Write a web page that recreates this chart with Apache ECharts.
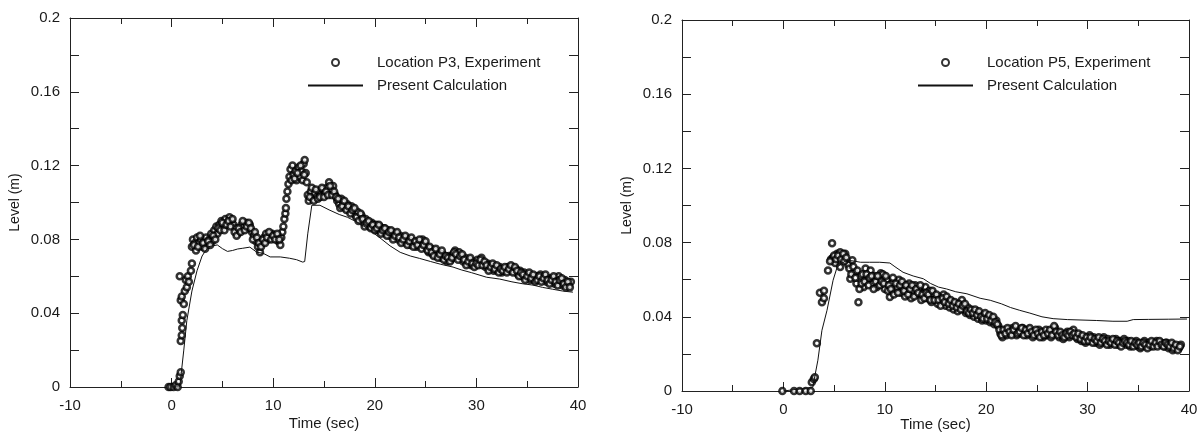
<!DOCTYPE html>
<html>
<head>
<meta charset="utf-8">
<script src="https://cdn.jsdelivr.net/npm/echarts@6/dist/echarts.min.js"></script>
<style>
  html, body { margin: 0; padding: 0; background: #fff; }
  #main { width: 1198px; height: 432px; }
</style>
</head>
<body>
<div id="main"></div>
<script>
// Location P3, experiment (time sec, level m)
var p3Exp = [
  [-0.3,0],[-0.1,0],[0.2,0],[0.4,0.001],[0.6,0],[0.7,0.003],[0.8,0.006],[0.9,0.008],
  [0.9,0.025],[1.0,0.028],[1.0,0.036],[1.05,0.032],[1.1,0.039],[0.9,0.047],[1.0,0.049],
  [0.8,0.060],[1.2,0.045],[1.3,0.052],[1.4,0.058],[1.5,0.054],[1.6,0.060],[1.7,0.057],
  [1.9,0.063],[2.0,0.067],[2.0,0.076],[2.1,0.080],[2.3,0.078],[2.4,0.074],[2.5,0.081],
  [2.7,0.078],[2.9,0.080],[3.0,0.076],[3.2,0.079],[3.4,0.081],[3.5,0.077],[3.7,0.080],
  [3.9,0.083],[4.0,0.079],[4.2,0.085],[4.4,0.087],[4.5,0.083],[4.7,0.088],[4.9,0.090],
  [5.1,0.087],[5.3,0.091],[5.5,0.089],[5.7,0.092],[5.9,0.090],[6.1,0.088],[6.3,0.086],
  [6.5,0.083],[6.7,0.085],[6.9,0.088],[7.1,0.087],[7.3,0.089],[7.5,0.086],[7.7,0.088],
  [7.9,0.084],[8.1,0.082],[8.3,0.079],[8.5,0.076],[8.7,0.073],[8.9,0.078],[9.1,0.081],
  [9.3,0.083],[9.5,0.080],[9.7,0.082],[9.9,0.083],[10.1,0.081],[10.3,0.082],[10.5,0.079],
  [10.7,0.077],[10.8,0.081],[10.9,0.084],[11.0,0.087],[11.1,0.091],[11.2,0.094],[11.25,0.097],
  [11.3,0.102],[11.4,0.106],[11.5,0.110],[11.6,0.114],[11.7,0.118],[11.8,0.112],[11.9,0.120],
  [12.0,0.115],[12.2,0.117],[12.3,0.112],[12.5,0.119],[12.6,0.114],[12.8,0.117],[12.9,0.112],
  [13.0,0.121],[13.1,0.123],[13.2,0.116],[13.3,0.111],[13.4,0.104],[13.5,0.101],[13.7,0.106],
  [13.9,0.102],[14.1,0.105],[14.3,0.103],[14.5,0.106],[14.7,0.104],[14.9,0.107],[15.1,0.105],
  [15.3,0.108],[15.5,0.111],[15.7,0.107],[15.9,0.109],[16.1,0.104],[16.3,0.101],[16.5,0.099],
  [16.7,0.102],[16.9,0.100],[17.1,0.097],[17.3,0.099],[17.5,0.096],[17.7,0.098],[17.9,0.095],
  [18.1,0.093],[18.3,0.095],[18.5,0.091],[18.7,0.093],[18.9,0.089],[19.1,0.091],[19.3,0.088],
  [19.5,0.087],[19.7,0.089],[19.9,0.086],[20.1,0.088],[20.3,0.085],[20.5,0.087],[20.7,0.084],
  [20.9,0.086],[21.1,0.083],[21.3,0.085],[21.5,0.082],[21.7,0.084],[21.9,0.081],[22.1,0.083],
  [22.3,0.080],[22.5,0.082],[22.7,0.079],[22.9,0.081],[23.1,0.078],[23.3,0.080],[23.5,0.077],
  [23.7,0.079],[23.9,0.078],[24.1,0.076],[24.3,0.078],[24.5,0.077],[24.7,0.080],[24.9,0.078],
  [25.1,0.075],[25.3,0.073],[25.5,0.075],[25.7,0.072],[25.9,0.074],[26.1,0.071],[26.3,0.073],
  [26.5,0.070],[26.7,0.072],[26.9,0.070],[27.1,0.068],[27.3,0.071],[27.5,0.069],[27.7,0.072],
  [27.9,0.074],[28.1,0.071],[28.3,0.073],[28.5,0.070],[28.7,0.068],[28.9,0.070],[29.1,0.067],
  [29.3,0.069],[29.5,0.066],[29.7,0.068],[29.9,0.066],[30.1,0.069],[30.3,0.067],[30.5,0.070],
  [30.7,0.067],[30.9,0.065],[31.1,0.067],[31.3,0.064],[31.5,0.066],[31.7,0.063],[31.9,0.065],
  [32.1,0.063],[32.3,0.065],[32.5,0.062],[32.7,0.064],[32.9,0.063],[33.1,0.065],[33.3,0.063],
  [33.5,0.065],[33.7,0.063],[33.9,0.064],[34.1,0.061],[34.3,0.063],[34.5,0.060],[34.7,0.062],
  [34.9,0.059],[35.1,0.061],[35.3,0.058],[35.5,0.060],[35.7,0.058],[35.9,0.060],[36.1,0.059],
  [36.3,0.061],[36.5,0.058],[36.7,0.060],[36.9,0.057],[37.1,0.059],[37.3,0.057],[37.5,0.059],
  [37.7,0.056],[37.9,0.058],[38.1,0.060],[38.3,0.057],[38.5,0.055],[38.7,0.058],[38.9,0.056],
  [39.1,0.055],[39.3,0.057]
];
// more P3 readings in between (the band is dense)
var p3ExpMore = [
  [2.2,0.077],[2.6,0.076],[2.8,0.082],[3.1,0.078],[3.3,0.075],[3.6,0.079],[3.8,0.077],[4.1,0.082],
  [4.3,0.080],[4.6,0.086],[4.8,0.085],[5.0,0.089],[5.2,0.085],[5.4,0.088],[5.6,0.090],[5.8,0.087],
  [6.0,0.091],[6.2,0.084],[6.4,0.082],[6.6,0.086],[6.8,0.084],[7.0,0.090],[7.2,0.085],[7.4,0.087],
  [7.6,0.089],[7.8,0.086],[8.0,0.080],[8.2,0.084],[8.4,0.081],[8.6,0.078],[8.8,0.076],[9.0,0.080],
  [9.2,0.078],[9.4,0.081],[9.6,0.084],[9.8,0.080],[10.0,0.082],[10.2,0.080],[10.4,0.083],[10.6,0.080],
  [12.1,0.113],[12.4,0.116],[12.7,0.120],[13.05,0.115],[13.6,0.103],[13.8,0.108],[14.0,0.101],
  [14.2,0.107],[14.4,0.102],[14.6,0.103],[14.8,0.108],[15.0,0.103],[15.2,0.106],[15.4,0.104],
  [15.6,0.109],[15.8,0.104],[16.0,0.106],[16.2,0.103],[16.4,0.102],[16.6,0.097],[16.8,0.098],
  [17.0,0.101],[17.2,0.096],[17.4,0.098],[17.6,0.094],[17.8,0.096],[18.0,0.097],[18.2,0.092],
  [18.4,0.090],[18.6,0.094],[18.8,0.091],[19.0,0.087],[19.2,0.089],[19.4,0.090],[19.6,0.086],
  [19.8,0.088],[20.0,0.085],[20.2,0.086],[20.4,0.088],[20.6,0.083],[20.8,0.085],[21.0,0.086],
  [21.2,0.082],[21.4,0.084],[21.6,0.085],[21.8,0.080],[22.0,0.082],[22.2,0.084],[22.4,0.081],
  [22.6,0.078],[22.8,0.080],[23.0,0.082],[23.2,0.077],[23.4,0.079],[23.6,0.081],[23.8,0.076],
  [24.0,0.079],[24.2,0.077],[24.4,0.080],[24.6,0.075],[24.8,0.077],[25.0,0.079],[25.2,0.074],
  [25.4,0.076],[25.6,0.073],[25.8,0.071],[26.0,0.075],[26.2,0.070],[26.4,0.072],[26.6,0.074],
  [26.8,0.069],[27.0,0.071],[27.2,0.070],[27.4,0.068],[27.6,0.070],[27.8,0.073],[28.0,0.072],
  [28.2,0.069],[28.4,0.071],[28.6,0.072],[28.8,0.069],[29.0,0.066],[29.2,0.068],[29.4,0.070],
  [29.6,0.067],[29.8,0.065],[30.0,0.067],[30.2,0.066],[30.4,0.069],[30.6,0.066],[30.8,0.068],
  [31.0,0.066],[31.2,0.063],[31.4,0.065],[31.6,0.067],[31.8,0.064],[32.0,0.066],[32.2,0.062],
  [32.4,0.064],[32.6,0.063],[32.8,0.065],[33.0,0.062],[33.2,0.064],[33.4,0.066],[33.6,0.062],
  [33.8,0.065],[34.0,0.063],[34.2,0.060],[34.4,0.062],[34.6,0.061],[34.8,0.058],[35.0,0.060],
  [35.2,0.062],[35.4,0.059],[35.6,0.061],[35.8,0.057],[36.0,0.058],[36.2,0.060],[36.4,0.057],
  [36.6,0.059],[36.8,0.061],[37.0,0.058],[37.2,0.056],[37.4,0.058],[37.6,0.060],[37.8,0.057],
  [38.0,0.055],[38.2,0.058],[38.4,0.059],[38.6,0.056],[38.8,0.054],[39.0,0.057],[39.2,0.054]
];

// Location P3, present calculation
var p3Calc = [
  [0,0],[0.8,0],[1.2,0.020],[1.5,0.036],[2.0,0.052],[2.5,0.063],[3.0,0.071],[3.6,0.076],
  [4.5,0.077],[5.0,0.075],[5.5,0.0735],[6.0,0.074],[6.5,0.0748],[7.0,0.0752],[7.7,0.0758],
  [8.4,0.073],[9.0,0.0725],[9.7,0.0705],[10.7,0.0705],[11.6,0.0698],[12.3,0.069],[12.9,0.0677],
  [13.1,0.068],[13.4,0.083],[13.8,0.0985],[14.6,0.0985],[15.5,0.096],[16.5,0.0935],[17.3,0.092],
  [18.5,0.0887],[19.5,0.085],[20.7,0.080],[21.5,0.0765],[22.5,0.073],[23.5,0.071],[24.4,0.0697],
  [25.5,0.068],[26.5,0.0665],[27.7,0.065],[28.5,0.0635],[29.5,0.062],[31.0,0.0595],[32.3,0.0585],
  [33.5,0.057],[34.5,0.056],[35.6,0.0552],[36.5,0.054],[37.5,0.053],[38.5,0.052],[39.5,0.0514]
];

// Location P5, experiment
var p5Exp = [
  [-0.1,0],[1.05,0],[1.6,0],[2.2,0],[2.7,0],[2.8,0.0047],[3.0,0.0065],[3.1,0.0074],[3.3,0.0257],
  [3.6,0.053],[3.8,0.0478],[4.0,0.054],[4.0,0.050],[4.4,0.065],[4.8,0.0796],[4.7,0.071],[4.9,0.072],
  [5.1,0.069],[5.3,0.074],[5.6,0.0748],[5.8,0.0725],[6.1,0.074],[5.6,0.0668],[6.4,0.068],[6.6,0.0605],
  [6.8,0.0705],[7.0,0.064],[7.2,0.058],[7.4,0.0478],[7.6,0.062],[7.9,0.056],[8.1,0.066],[8.3,0.060],
  [8.6,0.065],[8.8,0.058],[9.0,0.062],[9.2,0.056],[9.4,0.060],[9.6,0.0635],[9.8,0.063],[10.0,0.055],
  [10.2,0.060],[10.5,0.0507],[10.7,0.058],[11.0,0.054],[11.2,0.056],[11.4,0.060],[11.6,0.053],
  [11.8,0.057],[12.0,0.051],[12.2,0.055],[12.4,0.058],[12.6,0.050],[12.8,0.054],[13.0,0.057],
  [13.2,0.052],[13.4,0.055],[13.6,0.049],[13.8,0.053],[14.0,0.056],[14.2,0.050],[14.4,0.054],
  [14.6,0.048],[14.8,0.052],[15.0,0.050],[15.2,0.047],[15.4,0.051],[15.6,0.048],[15.8,0.052],
  [16.0,0.046],[16.2,0.049],[16.4,0.045],[16.6,0.048],[16.8,0.044],[17.0,0.047],[17.2,0.043],
  [17.4,0.046],[17.6,0.049],[17.8,0.044],[18.0,0.042],[18.2,0.045],[18.4,0.041],[18.6,0.043],
  [18.8,0.040],[19.0,0.043],[19.2,0.039],[19.4,0.041],[19.6,0.038],[19.8,0.041],[20.0,0.038],
  [20.2,0.040],[20.4,0.037],[20.6,0.039],[20.8,0.036],[21.0,0.038],[21.2,0.035],[21.4,0.031],
  [21.6,0.029],[21.8,0.032],[22.0,0.030],[22.2,0.033],[22.4,0.031],[22.6,0.034],[22.8,0.032],
  [23.0,0.030],[23.2,0.033],[23.4,0.031],[23.6,0.034],[23.8,0.032],[24.0,0.030],[24.2,0.033],
  [24.4,0.031],[24.6,0.029],[24.8,0.032],[25.0,0.030],[25.2,0.033],[25.4,0.031],[25.6,0.029],
  [25.8,0.031],[26.0,0.030],[26.2,0.032],[26.4,0.029],[26.6,0.031],[26.8,0.034],[27.0,0.031],
  [27.2,0.029],[27.4,0.031],[27.6,0.028],[27.8,0.030],[28.0,0.032],[28.2,0.029],[28.4,0.031],
  [28.6,0.033],[28.8,0.030],[29.0,0.028],[29.2,0.030],[29.4,0.027],[29.6,0.029],[29.8,0.026],
  [30.0,0.028],[30.2,0.030],[30.4,0.027],[30.6,0.029],[30.8,0.026],[31.0,0.028],[31.2,0.025],
  [31.4,0.027],[31.6,0.029],[31.8,0.026],[32.0,0.028],[32.2,0.025],[32.4,0.027],[32.6,0.026],
  [32.8,0.028],[33.0,0.025],[33.2,0.027],[33.4,0.026],[33.6,0.028],[33.8,0.025],[34.0,0.027],
  [34.2,0.024],[34.4,0.026],[34.6,0.025],[34.8,0.027],[35.0,0.024],[35.2,0.023],[35.4,0.025],
  [35.6,0.027],[35.8,0.024],[36.0,0.026],[36.2,0.024],[36.4,0.026],[36.6,0.025],[36.8,0.027],
  [37.0,0.025],[37.2,0.026],[37.4,0.0257],[37.6,0.024],[37.8,0.026],[38.0,0.023],[38.2,0.025],
  [38.4,0.022],[38.6,0.024],[38.8,0.0236],[39.0,0.023],[39.2,0.025]
];
var p5ExpMore = [
  [4.6,0.070],[5.0,0.073],[5.2,0.071],[5.4,0.073],[5.7,0.071],[5.9,0.074],[6.0,0.070],[6.2,0.072],
  [6.5,0.066],[6.7,0.063],[6.9,0.067],[7.1,0.061],[7.3,0.065],[7.5,0.055],[7.7,0.058],[7.8,0.063],
  [8.0,0.059],[8.2,0.063],[8.4,0.057],[8.5,0.061],[8.7,0.062],[8.9,0.055],[9.1,0.059],[9.3,0.062],
  [9.5,0.057],[9.7,0.059],[9.9,0.058],[10.1,0.062],[10.3,0.054],[10.4,0.057],[10.6,0.055],[10.8,0.061],
  [10.9,0.052],[11.1,0.058],[11.3,0.053],[11.5,0.057],[11.7,0.059],[11.9,0.054],[12.1,0.057],[12.3,0.052],
  [12.5,0.055],[12.7,0.057],[12.9,0.051],[13.1,0.055],[13.3,0.053],[13.5,0.057],[13.7,0.052],[13.9,0.050],
  [14.1,0.053],[14.3,0.052],[14.5,0.049],[14.7,0.054],[14.9,0.049],[15.1,0.052],[15.3,0.049],[15.5,0.046],
  [15.7,0.050],[15.9,0.048],[16.1,0.051],[16.3,0.047],[16.5,0.049],[16.7,0.046],[16.9,0.048],[17.1,0.045],
  [17.3,0.047],[17.5,0.044],[17.7,0.046],[17.9,0.047],[18.1,0.043],[18.3,0.042],[18.5,0.044],[18.7,0.042],
  [18.9,0.044],[19.1,0.041],[19.3,0.043],[19.5,0.040],[19.7,0.039],[19.9,0.042],[20.1,0.039],[20.3,0.041],
  [20.5,0.038],[20.7,0.040],[20.9,0.037],[21.1,0.036],[21.3,0.033],[21.5,0.030],[21.7,0.033],[21.9,0.031],
  [22.1,0.034],[22.3,0.032],[22.5,0.030],[22.7,0.033],[22.9,0.035],[23.1,0.031],[23.3,0.032],[23.5,0.034],
  [23.7,0.030],[23.9,0.033],[24.1,0.031],[24.3,0.034],[24.5,0.032],[24.7,0.030],[24.9,0.033],[25.1,0.031],
  [25.3,0.029],[25.5,0.032],[25.7,0.030],[25.9,0.033],[26.1,0.031],[26.3,0.033],[26.5,0.030],[26.7,0.035],
  [26.9,0.032],[27.1,0.030],[27.3,0.032],[27.5,0.030],[27.7,0.029],[27.9,0.031],[28.1,0.030],[28.3,0.032],
  [28.5,0.030],[28.7,0.031],[28.9,0.029],[29.1,0.031],[29.3,0.028],[29.5,0.030],[29.7,0.027],[29.9,0.029],
  [30.1,0.027],[30.3,0.029],[30.5,0.026],[30.7,0.028],[30.9,0.027],[31.1,0.029],[31.3,0.026],[31.5,0.028],
  [31.7,0.027],[31.9,0.025],[32.1,0.027],[32.3,0.026],[32.5,0.028],[32.7,0.025],[32.9,0.027],[33.1,0.026],
  [33.3,0.024],[33.5,0.026],[33.7,0.027],[33.9,0.026],[34.1,0.025],[34.3,0.027],[34.5,0.024],[34.7,0.026],
  [34.9,0.025],[35.1,0.026],[35.3,0.024],[35.5,0.026],[35.7,0.025],[35.9,0.023],[36.1,0.025],[36.3,0.027],
  [36.5,0.024],[36.7,0.026],[36.9,0.024],[37.1,0.027],[37.3,0.025],[37.5,0.024],[37.7,0.026],[37.9,0.025],
  [38.1,0.024],[38.3,0.026],[38.5,0.023],[38.7,0.025],[38.9,0.022],[39.1,0.024]
];

// Location P5, present calculation
var p5Calc = [
  [0,0],[2.9,0.002],[3.1,0.008],[3.4,0.0166],[3.8,0.0327],[4.3,0.0435],[4.9,0.0597],[5.3,0.0668],
  [5.8,0.069],[6.3,0.0705],[7.0,0.070],[7.6,0.0694],[8.5,0.0694],[9.5,0.0694],[10.5,0.069],
  [11.0,0.067],[11.8,0.064],[12.8,0.062],[13.8,0.0605],[14.5,0.058],[15.3,0.056],[16.1,0.055],
  [17.0,0.0535],[18.1,0.0524],[19.4,0.050],[20.4,0.0489],[21.5,0.047],[22.4,0.045],[23.3,0.0435],
  [24.3,0.042],[25.5,0.040],[26.6,0.039],[28.0,0.0385],[30.9,0.038],[32.5,0.0376],[33.9,0.0376],
  [34.5,0.0385],[36.0,0.0386],[38.0,0.0387],[39.8,0.0388]
];

var FONT = 'Liberation Sans, Arial, sans-serif';
var INK = '#1a1a1a';

function xAx(gi, pos, gap) {
    var bottom = pos === 'bottom';
    return {
        type: 'value', gridIndex: gi, position: pos,
        min: -10, max: 40, interval: 10,
        name: bottom ? 'Time (sec)' : '', nameLocation: 'middle', nameGap: gap || 30,
        nameMoveOverlap: false,
        nameTextStyle: { fontFamily: FONT, fontSize: 15, color: INK },
        axisLine: { show: true, onZero: false, lineStyle: { color: '#222', width: 1 } },
        axisTick: { show: true, inside: true, length: 9, lineStyle: { color: '#222' } },
        minorTick: { show: true, splitNumber: 2, length: 6, lineStyle: { color: '#222' } },
        axisLabel: { show: bottom, margin: 11, fontFamily: FONT, fontSize: 15, color: INK },
        splitLine: { show: false }
    };
}

function yAx(gi, pos) {
    var left = pos === 'left';
    return {
        type: 'value', gridIndex: gi, position: pos,
        min: 0, max: 0.2, interval: 0.04,
        name: left ? 'Level (m)' : '', nameLocation: 'middle', nameGap: 48,
        nameMoveOverlap: false,
        nameTextStyle: { fontFamily: FONT, fontSize: 14, color: INK },
        axisLine: { show: true, onZero: false, lineStyle: { color: '#222', width: 1 } },
        axisTick: { show: true, inside: true, length: 9, lineStyle: { color: '#222' } },
        minorTick: { show: true, splitNumber: 2, length: 9, lineStyle: { color: '#222' } },
        axisLabel: { show: left, margin: 10, fontFamily: FONT, fontSize: 15, color: INK },
        splitLine: { show: false }
    };
}

function expSeries(name, data, ai) {
    return {
        name: name, type: 'scatter', xAxisIndex: ai, yAxisIndex: ai,
        data: data, symbol: 'circle', symbolSize: 6,
        itemStyle: { color: '#fff', borderColor: '#000', borderWidth: 2.5 },
        z: 3
    };
}

function calcSeries(data, ai) {
    return {
        name: 'Present Calculation', type: 'line', xAxisIndex: ai, yAxisIndex: ai,
        data: data, symbol: 'none', showSymbol: false,
        itemStyle: { color: '#111' },
        lineStyle: { color: '#111', width: 1 },
        z: 4
    };
}

function legendFor(left, first) {
    return {
        left: left, top: 55, orient: 'vertical', padding: 0,
        itemWidth: 55, itemHeight: 7, itemGap: 8,
        selectedMode: false,
        data: [first, { name: 'Present Calculation', itemStyle: { opacity: 0 } }],
        textStyle: { fontFamily: FONT, fontSize: 15, color: INK, padding: [0, 0, 0, 9] }
    };
}

var option = {
    animation: false,
    backgroundColor: '#fff',
    grid: [
        { left: 70, top: 18, width: 508, height: 369, outerBoundsMode: 'none' },
        { left: 682, top: 20, width: 507, height: 371, outerBoundsMode: 'none' }
    ],
    legend: [
        legendFor(307, 'Location P3, Experiment'),
        legendFor(917, 'Location P5, Experiment')
    ],
    xAxis: [xAx(0, 'bottom', 29), xAx(1, 'bottom', 26), xAx(0, 'top'), xAx(1, 'top')],
    yAxis: [yAx(0, 'left'), yAx(1, 'left'), yAx(0, 'right'), yAx(1, 'right')],
    series: [
        expSeries('Location P3, Experiment', p3Exp.concat(p3ExpMore), 0),
        calcSeries(p3Calc, 0),
        expSeries('Location P5, Experiment', p5Exp.concat(p5ExpMore), 1),
        calcSeries(p5Calc, 1)
    ]
};

var myChart = echarts.init(document.getElementById('main'));
myChart.setOption(option);
</script>
</body>
</html>
